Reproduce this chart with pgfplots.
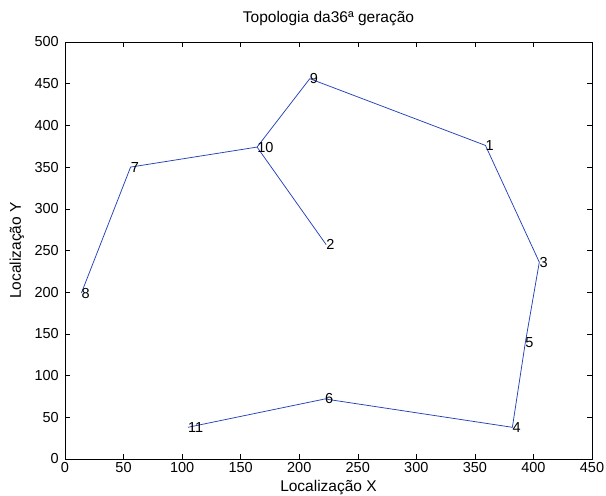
\documentclass[border=0pt]{standalone}
\usepackage{fontspec}
\setmainfont{Liberation Sans}
\usepackage{pgfplots}
\pgfplotsset{compat=1.18}
\usetikzlibrary{calc}
\definecolor{mlblue}{RGB}{35,65,185}

\begin{document}
\begin{tikzpicture}
\begin{axis}[
  scale only axis,
  width=527bp, height=417bp,
  xmin=0, xmax=450, ymin=0, ymax=500,
  xtick distance=50, ytick distance=50,
  tick align=inside,
  major tick length=5bp,
  axis line style={line width=0.6pt},
  every tick/.style={black, line width=0.5pt},
  /pgf/number format/assume math mode=true,
  ticklabel style={font=\fontsize{14.5bp}{17bp}\selectfont},
  xticklabel style={anchor=base, yshift=-14bp, inner sep=0pt},
  yticklabel style={anchor=east, xshift=-6bp, inner sep=0pt},
  title={Topologia da36ª geração},
  title style={font=\fontsize{15.5bp}{18bp}\selectfont,
    at={(axis description cs:0.5,1)}, anchor=base, yshift=14bp},
  xlabel={Localização X},
  xlabel style={font=\fontsize{15.5bp}{18bp}\selectfont,
    at={(axis description cs:0.5,0)}, anchor=base, yshift=-33bp},
  ylabel={Localização Y},
  ylabel style={font=\fontsize{15.5bp}{18bp}\selectfont,
    at={(axis description cs:0,0.5)}, anchor=center, yshift=48bp},
  clip=false,
]
% main route
\addplot[mlblue, line width=0.75pt, mark=none] coordinates {
  (14,199) (56,350) (164,374) (209,456) (359,376)
  (405,236) (393,139) (382,38) (222,72) (105,38)
};
% branch 10 -> 2
\addplot[mlblue, line width=0.75pt, mark=none] coordinates {
  (164,374) (223,257)
};
% node labels
\addplot[draw=none, mark=none,
  nodes near coords,
  point meta=explicit symbolic,
  every node near coord/.style={anchor=west, inner sep=0pt,
    font=\fontsize{14.5bp}{17bp}\selectfont, black}]
  table[meta=lab] {
x y lab
359 376 1
223 257 2
405 236 3
382 38 4
393 139 5
222 72 6
56 350 7
14 199 8
209 456 9
164 374 10
105 38 11
};
\end{axis}
\pgfresetboundingbox
\path ($(current axis.south west)+(-65bp,-37bp)$) rectangle
  ($(current axis.north east)+(14bp,42bp)$);
\end{tikzpicture}
\end{document}
